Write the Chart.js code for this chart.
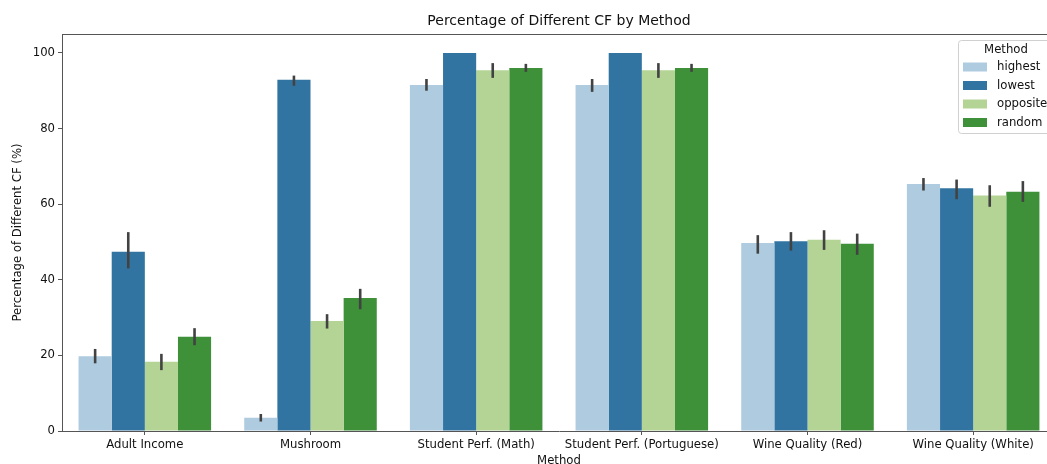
<!DOCTYPE html>
<html>
<head>
<meta charset="utf-8">
<script src="https://cdn.jsdelivr.net/npm/chart.js@4/dist/chart.umd.min.js"></script>
<style>
  html, body { margin: 0; padding: 0; background: #fff; overflow: hidden; }
  #wrap { width: 1047px; height: 464px; overflow: hidden; position: relative; }
  canvas { display: block; }
</style>
</head>
<body>
<div id="wrap"><canvas id="c" width="1060" height="480"></canvas></div>
<script>
// Datasets and method labels
const categories = ['Adult Income', 'Mushroom', 'Student Perf. (Math)', 'Student Perf. (Portuguese)', 'Wine Quality (Red)', 'Wine Quality (White)'];
const methods = ['highest', 'lowest', 'opposite', 'random'];

// Mean percentage of different CF per dataset
const highest  = [19.8, 3.5, 91.5, 91.5, 49.7, 65.3];
const lowest   = [47.4, 92.9, 100.0, 100.0, 50.2, 64.2];
const opposite = [18.3, 29.1, 95.4, 95.4, 50.6, 62.3];
const random   = [24.9, 35.2, 96.0, 96.0, 49.5, 63.3];

// Confidence interval bounds
const highestLo  = [17.9, 2.5, 90.0, 89.7, 46.9, 63.6];
const highestHi  = [21.7, 4.5, 93.1, 93.1, 51.8, 66.9];
const lowestLo   = [43.0, 91.3, 100.0, 100.0, 47.7, 61.3];
const lowestHi   = [52.6, 94.0, 100.0, 100.0, 52.6, 66.5];
const oppositeLo = [16.1, 27.1, 93.4, 93.4, 47.9, 59.3];
const oppositeHi = [20.4, 30.9, 97.3, 97.3, 53.1, 65.0];
const randomLo   = [22.7, 32.2, 95.0, 95.0, 46.6, 60.6];
const randomHi   = [27.2, 37.6, 97.1, 97.1, 52.2, 66.1];

const yTicks = [0, 20, 40, 60, 80, 100];

const colors = ['#aecbdf', '#3274a1', '#b3d495', '#3e9039'];
const FONT = "'DejaVu Sans', sans-serif";
const SMALL = 11.7;
const TEXT = '#111';
const TITLE = 'Percentage of Different CF by Method';

const series = [highest, lowest, opposite, random];
const lows = [highestLo, lowestLo, oppositeLo, randomLo];
const highs = [highestHi, lowestHi, oppositeHi, randomHi];

const datasets = methods.map((m, i) => ({
  label: m,
  data: series[i],
  errLo: lows[i],
  errHi: highs[i],
  backgroundColor: colors[i],
  borderWidth: 0,
  categoryPercentage: 0.8,
  barPercentage: 1.0
}));

// Error bars drawn from the CI arrays through the y scale
const errorBars = {
  id: 'errorBars',
  afterDatasetsDraw(chart) {
    const ctx = chart.ctx;
    const y = chart.scales.y;
    ctx.save();
    ctx.strokeStyle = '#424242';
    ctx.lineWidth = 2.6;
    ctx.lineCap = 'butt';
    chart.data.datasets.forEach((ds, di) => {
      const meta = chart.getDatasetMeta(di);
      meta.data.forEach((bar, j) => {
        const lo = ds.errLo[j], hi = ds.errHi[j];
        if (hi - lo <= 0) return;
        ctx.beginPath();
        ctx.moveTo(bar.x, y.getPixelForValue(lo));
        ctx.lineTo(bar.x, y.getPixelForValue(hi));
        ctx.stroke();
      });
    });
    ctx.restore();
  }
};

// Title centred over the axes, top spine and legend box
const frameAndLegend = {
  id: 'frameAndLegend',
  afterDraw(chart) {
    const ctx = chart.ctx;
    const a = chart.chartArea;
    ctx.save();
    ctx.fillStyle = TEXT;
    ctx.font = '14px ' + FONT;
    ctx.textAlign = 'center';
    ctx.textBaseline = 'middle';
    ctx.fillText(TITLE, (a.left + a.right) / 2, 21);

    ctx.strokeStyle = '#555';
    ctx.lineWidth = 1;
    ctx.beginPath();
    ctx.moveTo(a.left, a.top + 0.5);
    ctx.lineTo(a.right, a.top + 0.5);
    ctx.moveTo(a.right - 0.5, a.top);
    ctx.lineTo(a.right - 0.5, a.bottom);
    ctx.stroke();

    // legend
    const lx = 958, ly = 40, lw = 100, lh = 93;
    ctx.fillStyle = 'rgba(255,255,255,0.8)';
    ctx.strokeStyle = '#d0d0d0';
    ctx.lineWidth = 1;
    ctx.beginPath();
    ctx.roundRect(lx + 0.5, ly + 0.5, lw, lh, 3);
    ctx.fill();
    ctx.stroke();
    ctx.fillStyle = TEXT;
    ctx.font = SMALL + 'px ' + FONT;
    ctx.textAlign = 'center';
    ctx.fillText('Method', 1006, 49.5);
    ctx.textAlign = 'left';
    chart.data.datasets.forEach((ds, i) => {
      const cy = 67 + i * 18.5;
      ctx.fillStyle = ds.backgroundColor;
      ctx.fillRect(963, cy - 4.5, 24, 9);
      ctx.fillStyle = TEXT;
      ctx.fillText(ds.label, 997, cy);
    });
    ctx.restore();
  }
};

new Chart(document.getElementById('c'), {
  type: 'bar',
  data: { labels: categories, datasets },
  options: {
    responsive: false,
    animation: false,
    layout: { padding: { left: 0, right: 4, top: 34, bottom: 0 } },
    plugins: {
      legend: { display: false },
      tooltip: { enabled: false },
      title: { display: false }
    },
    scales: {
      x: {
        grid: { display: true, offset: false, drawOnChartArea: false, drawTicks: true, tickLength: 4, color: '#555' },
        border: { display: true, color: '#555', width: 1 },
        ticks: { color: TEXT, font: { family: FONT, size: SMALL }, padding: 3, maxRotation: 0, autoSkip: false },
        title: { display: true, text: 'Method', color: TEXT, font: { family: FONT, size: SMALL, lineHeight: 1.2 }, padding: { top: 0, bottom: 12 } },
        afterFit(s) { s.height = 49; }
      },
      y: {
        min: 0,
        max: 105,
        afterBuildTicks(s) { s.ticks = yTicks.map(v => ({ value: v })); },
        grid: { display: true, drawOnChartArea: false, drawTicks: true, tickLength: 4, color: '#555' },
        border: { display: true, color: '#555', width: 1 },
        ticks: { color: TEXT, font: { family: FONT, size: SMALL }, padding: 3 },
        title: { display: true, text: 'Percentage of Different CF (%)', color: TEXT, font: { family: FONT, size: SMALL, lineHeight: 1.2 }, padding: { top: 11, bottom: 0 } },
        afterFit(s) { s.width = 62; }
      }
    }
  },
  plugins: [errorBars, frameAndLegend]
});
</script>
</body>
</html>
